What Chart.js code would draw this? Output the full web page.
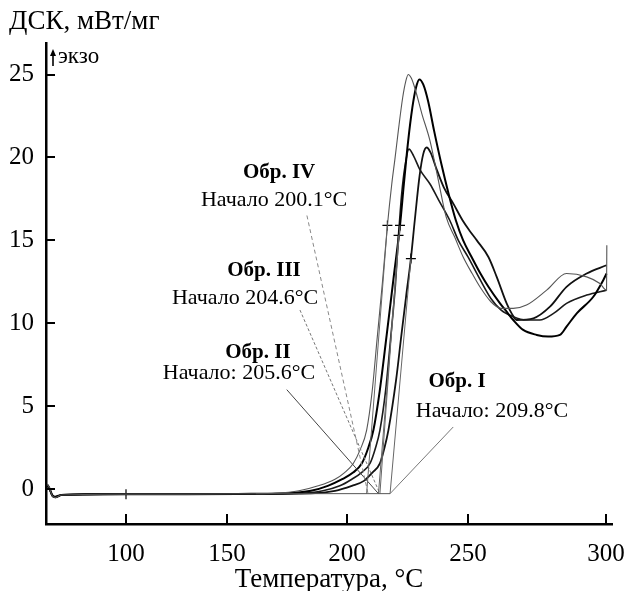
<!DOCTYPE html>
<html>
<head>
<meta charset="utf-8">
<script src="https://cdn.jsdelivr.net/npm/chart.js@4.4.1/dist/chart.umd.min.js"></script>
<style>
  html, body { margin: 0; padding: 0; background: #fff; }
</style>
</head>
<body>
<canvas id="dscChart" width="627" height="591"></canvas>
<script>
// tick labels
var xTicks = [100, 150, 200, 250, 300];
var yTicks = [0, 5, 10, 15, 20, 25];

// Обр. IV
var tempIV = [61, 62, 63.5, 65, 68, 80, 100, 130, 160, 170, 180, 188, 195, 199, 202.6, 205.5, 208.1, 210.4, 212.4, 214.6, 216.7, 218.5, 219.8, 221.2, 223, 224.3, 225.3, 226.5, 228, 231, 234.3, 237.5, 241, 244.5, 248, 251.5, 254.3, 258.3, 262, 266.4, 271.2, 278.5, 285.7, 293, 297.8, 300.2, 300.3];
var dscIV = [0.3, 0.1, -0.4, -0.5, -0.35, -0.32, -0.3, -0.3, -0.28, -0.25, -0.1, 0.2, 0.6, 1.0, 1.55, 2.4, 3.55, 5.9, 9.0, 12.4, 15.9, 18.4, 19.9, 21.6, 23.6, 24.6, 25.0, 24.8, 24.2, 22.6, 21.0, 18.8, 16.4, 15.2, 14.0, 13.0, 12.2, 11.3, 10.9, 10.9, 11.1, 12.0, 13.0, 12.8, 12.4, 12.0, 14.7];

// Обр. III
var tempIII = [61, 62, 63.5, 65, 68, 80, 100, 130, 160, 175, 185, 192, 198, 202.5, 206.1, 208.8, 210.9, 213.5, 216.4, 219.3, 221.9, 223.5, 225.2, 227, 228.5, 229.9, 231.5, 233.5, 236, 239, 242, 245, 248, 251.3, 254.5, 257.4, 261.6, 264, 266.4, 270, 274.9, 279, 283.3, 285.7, 289.4, 295.4, 299, 300.2];
var dscIII = [0.2, 0.05, -0.35, -0.45, -0.35, -0.3, -0.3, -0.3, -0.28, -0.25, -0.1, 0.2, 0.6, 1.0, 1.55, 2.5, 3.55, 5.9, 9.3, 12.8, 15.9, 18.4, 20.9, 23.0, 24.2, 24.7, 24.4, 23.4, 21.6, 19.6, 17.8, 16.2, 15.0, 14.0, 13.0, 12.2, 11.2, 10.7, 10.2, 9.6, 9.3, 9.2, 9.3, 9.8, 10.6, 11.6, 12.6, 13.0];

// Обр. II
var tempII = [61, 62, 63.5, 65, 68, 80, 100, 130, 160, 180, 190, 197, 202, 206, 209.5, 211.8, 213.6, 216, 218.1, 220, 221.3, 222.6, 224, 225.6, 227.5, 230, 234.3, 238, 242.5, 246, 250, 254.5, 258.3, 262, 266.4, 271, 276, 281, 285.7, 293, 300.2];
var dscII = [0.25, 0.05, -0.4, -0.5, -0.35, -0.32, -0.3, -0.3, -0.28, -0.25, -0.1, 0.2, 0.6, 1.0, 1.55, 2.5, 3.55, 6.0, 9.2, 12.3, 15.3, 17.8, 19.5, 20.5, 20.1, 19.3, 18.4, 17.4, 16.2, 15.0, 14.0, 12.6, 11.5, 10.8, 10.4, 10.2, 10.2, 10.6, 11.2, 11.7, 12.0];

// Обр. I
var tempI = [61, 62, 63.5, 65, 68, 80, 100, 130, 160, 185, 195, 202, 207, 210.5, 213.6, 215.5, 217.1, 220.3, 222.4, 224.4, 226.4, 228, 230, 231.5, 232.9, 234.5, 237, 240, 244, 247.8, 250.5, 253.2, 257.4, 260.4, 264, 265.8, 267.6, 273.7, 279.7, 285.7, 293, 300.2];
var dscI = [0.3, 0.1, -0.4, -0.5, -0.35, -0.32, -0.3, -0.3, -0.28, -0.25, -0.1, 0.2, 0.5, 1.0, 1.55, 2.5, 3.55, 6.6, 9.2, 11.6, 13.9, 16.2, 18.9, 20.2, 20.6, 20.3, 19.3, 18.2, 17.2, 16.2, 15.6, 15.0, 14.0, 12.8, 11.2, 10.6, 10.2, 10.3, 11.0, 12.2, 13.0, 13.5];

// "+" marks (inflection points IV, III, II, I and one on the baseline)
var markTemp = [216.7, 221.9, 221.3, 226.4, 100];
var markDsc = [15.9, 15.9, 15.3, 13.9, -0.3];

// onset construction: baseline crossing of each tangent (IV, III, II, I)
var onsetTemp = [208.1, 213, 213.6, 217.8];
var baseDsc = -0.27;
var baseFrom = 162;

// leader lines from the labels down to the onset points (IV, III, II, I)
var leaderFromTemp = [183.3, 180.4, 174.9, 243.9];
var leaderFromDsc = [16.5, 10.8, 6.0, 3.75];
var leaderToTemp = [208.7, 213.6, 213, 217.8];

var serif = '"Liberation Serif", "DejaVu Serif", serif';

// the temperature axis of the original is not evenly spaced:
// relative axis length at each temperature
var xAxisStops = [[60.4, 0], [100, 80], [150, 181], [200, 301], [250, 422], [300, 560], [302.2, 566]];

function stopsForward(v) {
  var s = xAxisStops;
  var i = 1;
  while (i < s.length - 1 && v > s[i][0]) i++;
  var a = s[i - 1], b = s[i];
  return a[1] + (v - a[0]) * (b[1] - a[1]) / (b[0] - a[0]);
}
function stopsBack(u) {
  var s = xAxisStops;
  var i = 1;
  while (i < s.length - 1 && u > s[i][1]) i++;
  var a = s[i - 1], b = s[i];
  return a[0] + (u - a[1]) * (b[0] - a[0]) / (b[1] - a[1]);
}

class StretchScale extends Chart.LinearScale {
  getPixelForValue(v) {
    if (v === null || v === undefined) return NaN;
    var u0 = stopsForward(this.min), u1 = stopsForward(this.max);
    return this.getPixelForDecimal((stopsForward(v) - u0) / (u1 - u0));
  }
  getValueForPixel(p) {
    var u0 = stopsForward(this.min), u1 = stopsForward(this.max);
    return stopsBack(u0 + this.getDecimalForPixel(p) * (u1 - u0));
  }
}
StretchScale.id = 'stretch';
StretchScale.defaults = {};
Chart.register(StretchScale);

function pts(xs, ys) {
  return xs.map(function (x, i) { return { x: x, y: ys[i] }; });
}

var datasets = [];

// construction lines first so the curves sit on top
datasets.push({
  data: [{ x: baseFrom, y: baseDsc }, { x: onsetTemp[3], y: baseDsc }],
  borderColor: '#555', borderWidth: 1, pointRadius: 0
});
onsetTemp.forEach(function (t, i) {
  datasets.push({
    data: [{ x: t, y: baseDsc }, { x: markTemp[i], y: markDsc[i] }],
    borderColor: '#666', borderWidth: 1, pointRadius: 0
  });
});
var leaderDash = [[4, 3], [3, 2], [], []];
var leaderColor = ['#888', '#777', '#444', '#777'];
leaderFromTemp.forEach(function (t, i) {
  datasets.push({
    data: [{ x: t, y: leaderFromDsc[i] }, { x: leaderToTemp[i], y: baseDsc }],
    borderColor: leaderColor[i], borderWidth: 1, borderDash: leaderDash[i], pointRadius: 0
  });
});

datasets.push({ label: 'Обр. IV', data: pts(tempIV, dscIV), borderColor: '#555', borderWidth: 1.1 });
datasets.push({ label: 'Обр. III', data: pts(tempIII, dscIII), borderColor: '#000', borderWidth: 2 });
datasets.push({ label: 'Обр. II', data: pts(tempII, dscII), borderColor: '#1a1a1a', borderWidth: 1.6 });
datasets.push({ label: 'Обр. I', data: pts(tempI, dscI), borderColor: '#111', borderWidth: 1.8 });

datasets.push({
  data: pts(markTemp, markDsc),
  showLine: false, pointStyle: 'cross', pointRadius: 5,
  pointBorderColor: '#000', pointBorderWidth: 1.2
});

// text notes placed in data coordinates
var notes = [
  { text: 'Обр. IV', bold: true, t: 171.7, v: 19.1 },
  { text: 'Начало 200.1°C', t: 169.6, v: 17.4 },
  { text: 'Обр. III', bold: true, t: 165.4, v: 13.2 },
  { text: 'Начало 204.6°C', t: 157.5, v: 11.5 },
  { text: 'Обр. II', bold: true, t: 162.9, v: 8.25 },
  { text: 'Начало: 205.6°C', t: 155, v: 7.0 },
  { text: 'Обр. I', bold: true, t: 245.5, v: 6.5 },
  { text: 'Начало: 209.8°C', t: 258.7, v: 4.7 }
];

var insideTicks = {
  id: 'insideTicks',
  afterDraw: function (chart) {
    var ctx = chart.ctx, xs = chart.scales.x, ys = chart.scales.y, a = chart.chartArea;
    ctx.save();
    ctx.strokeStyle = '#000';
    ctx.lineWidth = 2;
    xs.ticks.forEach(function (t) {
      var px = Math.round(xs.getPixelForValue(t.value));
      ctx.beginPath(); ctx.moveTo(px, a.bottom); ctx.lineTo(px, a.bottom - 10); ctx.stroke();
    });
    ys.ticks.forEach(function (t) {
      var py = Math.round(ys.getPixelForValue(t.value));
      ctx.beginPath(); ctx.moveTo(a.left, py); ctx.lineTo(a.left + 9, py); ctx.stroke();
    });
    ctx.restore();
  }
};

var textLayer = {
  id: 'textLayer',
  afterDraw: function (chart) {
    var ctx = chart.ctx, xs = chart.scales.x, ys = chart.scales.y, a = chart.chartArea;
    ctx.save();
    ctx.fillStyle = '#000';
    ctx.textBaseline = 'middle';

    // y axis title, horizontal at top-left
    ctx.font = '27px ' + serif;
    ctx.textAlign = 'left';
    ctx.fillText('ДСК, мВт/мг', 9, 22);

    // exo arrow
    ctx.strokeStyle = '#000';
    ctx.lineWidth = 1.6;
    ctx.beginPath(); ctx.moveTo(a.left + 7, 66); ctx.lineTo(a.left + 7, 54); ctx.stroke();
    ctx.beginPath();
    ctx.moveTo(a.left + 7, 49); ctx.lineTo(a.left + 4, 56); ctx.lineTo(a.left + 10, 56);
    ctx.closePath(); ctx.fill();
    ctx.font = '23px ' + serif;
    ctx.fillText('экзо', a.left + 12, 57);

    ctx.textAlign = 'center';
    notes.forEach(function (n) {
      ctx.font = (n.bold ? 'bold 21px ' : '22px ') + serif;
      ctx.fillText(n.text, xs.getPixelForValue(n.t), ys.getPixelForValue(n.v));
    });
    ctx.restore();
  }
};

new Chart(document.getElementById('dscChart'), {
  type: 'line',
  data: { datasets: datasets },
  options: {
    responsive: false,
    animation: false,
    layout: { padding: { left: 0, right: 15, top: 43, bottom: 0 } },
    elements: {
      point: { radius: 0 },
      line: { tension: 0, cubicInterpolationMode: 'monotone', fill: false }
    },
    plugins: {
      legend: { display: false },
      tooltip: { enabled: false }
    },
    scales: {
      x: {
        type: 'stretch',
        min: 60.4,
        max: 302.2,
        grid: { display: false, drawTicks: false },
        border: { display: true, color: '#000', width: 2.5 },
        afterBuildTicks: function (scale) {
          scale.ticks = xTicks.map(function (v) { return { value: v }; });
        },
        afterFit: function (scale) {
          scale.height = 67;
          scale.paddingLeft = 0;
          scale.paddingRight = 0;
        },
        ticks: {
          autoSkip: false, maxRotation: 0, padding: 15, color: '#000',
          font: { family: serif, size: 25 },
          callback: function (v) { return String(v); }
        },
        title: {
          display: true, text: 'Температура, °C', color: '#000',
          font: { family: serif, size: 27, lineHeight: 0.85 }, padding: { top: 0, bottom: 0 }
        }
      },
      y: {
        type: 'linear',
        min: -2.1,
        max: 26.9,
        grid: { display: false, drawTicks: false },
        border: { display: true, color: '#000', width: 2.5 },
        afterBuildTicks: function (scale) {
          scale.ticks = yTicks.map(function (v) { return { value: v }; });
        },
        afterFit: function (scale) {
          scale.width = 46;
          scale.paddingTop = 0;
          scale.paddingBottom = 0;
        },
        ticks: {
          padding: 12, color: '#000',
          font: { family: serif, size: 25 },
          callback: function (v) { return String(v); }
        }
      }
    }
  },
  plugins: [insideTicks, textLayer]
});
</script>
</body>
</html>
